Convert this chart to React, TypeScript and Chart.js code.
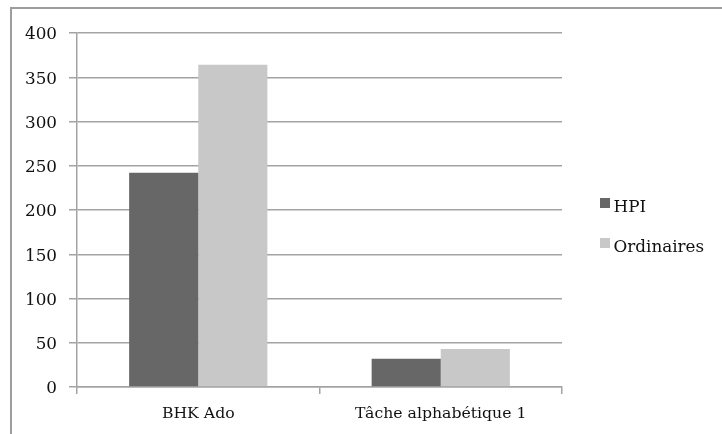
import React, { useEffect, useRef } from "react";
import { Chart, registerables } from "chart.js";

Chart.register(...registerables);

const categories = ["BHK Ado", "Tâche alphabétique 1"];
const seriesNames = ["HPI", "Ordinaires"];
const hpiValues = [242, 32];
const ordinairesValues = [364, 43];
const yTicks = [0, 50, 100, 150, 200, 250, 300, 350, 400];

const colors = ["#676767", "#c8c8c8"];
const FONT = "'DejaVu Serif', serif";
const TEXT = "#111111";
const LINE = "#a3a3a3";

const legendPlugin = {
  id: "sideLegend",
  afterDraw(chart: any) {
    const ctx = chart.ctx;
    const area = chart.chartArea;
    ctx.save();
    ctx.font = `16.8px ${FONT}`;
    ctx.textBaseline = "alphabetic";
    ctx.textAlign = "left";
    chart.data.datasets.forEach((ds: any, i: number) => {
      const x = area.right + 38;
      const y = 198 + i * 40;
      ctx.fillStyle = ds.backgroundColor;
      ctx.fillRect(x, y, 10, 10);
      ctx.fillStyle = TEXT;
      ctx.fillText(ds.label, x + 13.5, y + 14);
    });
    ctx.restore();
  },
};

export default function App() {
  const ref = useRef<HTMLCanvasElement | null>(null);

  useEffect(() => {
    if (!ref.current) return;
    const chart = new Chart(ref.current, {
      type: "bar",
      data: {
        labels: categories,
        datasets: [
          { label: seriesNames[0], data: hpiValues, backgroundColor: colors[0] },
          { label: seriesNames[1], data: ordinairesValues, backgroundColor: colors[1] },
        ],
      },
      options: {
        animation: false,
        responsive: false,
        devicePixelRatio: 1,
        layout: { padding: { left: 25, right: 160, top: 33, bottom: 0 } },
        datasets: {
          bar: { categoryPercentage: 0.57, barPercentage: 1 },
        },
        plugins: {
          legend: { display: false },
          tooltip: { enabled: false },
        },
        scales: {
          x: {
            offset: true,
            afterFit: (s: any) => {
              s.height = 47;
            },
            grid: {
              offset: true,
              drawOnChartArea: false,
              drawTicks: true,
              tickLength: 7,
              color: LINE,
              lineWidth: 1.5,
            },
            border: { display: true, color: LINE, width: 1.5 },
            ticks: {
              color: TEXT,
              font: { family: FONT, size: 15.7 },
              padding: 11,
              maxRotation: 0,
            },
          },
          y: {
            min: 0,
            max: 400,
            afterFit: (s: any) => {
              s.width = 52;
            },
            afterBuildTicks: (s: any) => {
              s.ticks = yTicks.map((v) => ({ value: v }));
            },
            grid: {
              color: LINE,
              lineWidth: 1.5,
              tickLength: 8,
              drawTicks: true,
            },
            border: { display: true, color: LINE, width: 1.5 },
            ticks: {
              color: TEXT,
              font: { family: FONT, size: 16.8 },
              padding: 12,
              labelOffset: 2,
            },
          },
        },
      },
      plugins: [legendPlugin],
    });
    return () => chart.destroy();
  }, []);

  return (
    <div
      style={{
        position: "fixed",
        left: 0,
        top: 0,
        width: 722,
        height: 434,
        overflow: "hidden",
        background: "#ffffff",
      }}
    >
      <div
        style={{
          position: "absolute",
          left: 10,
          top: 7,
          width: 800,
          height: 500,
          borderLeft: "2px solid #9d9d9d",
          borderTop: "2px solid #9d9d9d",
        }}
      />
      <canvas
        ref={ref}
        width={722}
        height={434}
        style={{ position: "absolute", left: 0, top: 0, width: 722, height: 434 }}
      />
    </div>
  );
}
